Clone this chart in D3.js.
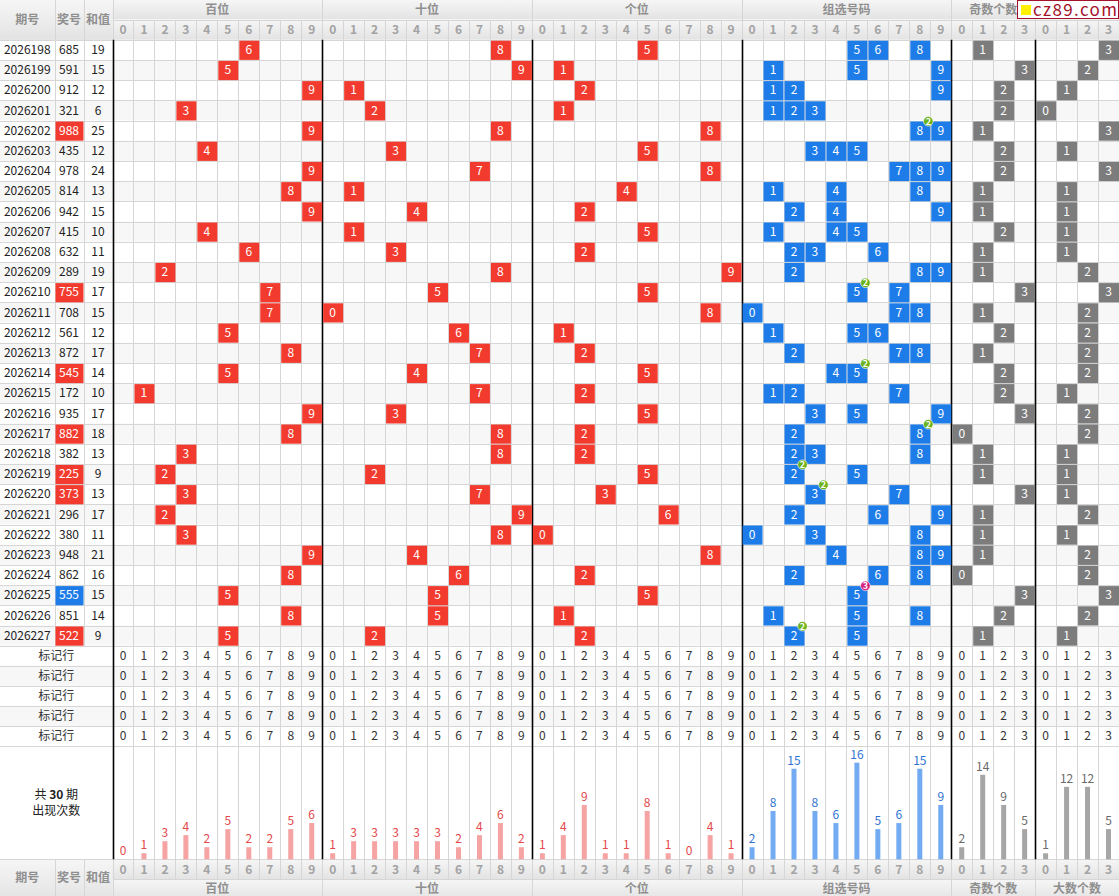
<!DOCTYPE html>
<html>
<head>
<meta charset="utf-8">
<script src="https://cdn.jsdelivr.net/npm/d3@7/dist/d3.min.js"></script>
<style>
body { margin: 0; background: #fff; }
svg text { font-family: "Noto Sans CJK SC", "Noto Sans", sans-serif; }
</style>
</head>
<body>
<svg id="chart" width="1119" height="896"></svg>
<script>
// ---- data ----
var issues = ["2026198","2026199","2026200","2026201","2026202","2026203","2026204","2026205","2026206","2026207",
              "2026208","2026209","2026210","2026211","2026212","2026213","2026214","2026215","2026216","2026217",
              "2026218","2026219","2026220","2026221","2026222","2026223","2026224","2026225","2026226","2026227"];
var draws = ["685","591","912","321","988","435","978","814","942","415",
             "632","289","755","708","561","872","545","172","935","882",
             "382","225","373","296","380","948","862","555","851","522"];
var sums = [19,15,12,6,25,12,24,13,15,10,11,19,17,15,12,17,14,10,17,18,13,9,13,17,11,21,16,15,14,9];
var oddCounts = [1,3,2,2,1,2,2,1,1,2,1,1,3,1,2,1,2,2,3,0,1,1,3,1,1,1,0,3,2,1];
var bigCounts = [3,2,1,0,3,1,3,1,1,1,1,2,3,2,2,2,2,1,2,2,1,1,1,2,1,2,2,3,2,1];

var groups = ["百位","十位","个位","组选号码","奇数个数","大数个数"];
var groupSizes = [10,10,10,10,4,4];
var digitLabels = ["0","1","2","3","4","5","6","7","8","9"];
var countLabels = ["0","1","2","3"];

// 出现次数 (30 periods)
var hundredsFreq = [0,1,3,4,2,5,2,2,5,6];
var tensFreq = [1,3,3,3,3,3,2,4,6,2];
var unitsFreq = [1,4,9,1,1,8,1,0,4,1];
var groupFreq = [2,8,15,8,6,16,5,6,15,9];
var oddFreq = [2,14,9,5];
var bigFreq = [1,12,12,5];

var markerRows = ["标记行","标记行","标记行","标记行","标记行"];

// ---- layout ----
var W = 1119, H = 896;
var leftEdges = [0, 54.5, 83.5, 112.5];
var headTop = 0, headMid = 19.5, headBot = 39.7;
var dataBot = 645.7, markBot = 746, statBot = 859.3, footMid = 879.3;

var colors = {
    red: "#f23b2e", blue: "#1d7ce8", gray: "#7c7c7c",
    grid: "#d6d6d6", alt: "#f7f7f7", head: "#999"
};

var svg = d3.select("#chart");

var grad = svg.append("defs").append("linearGradient")
    .attr("id", "hg").attr("x1", 0).attr("y1", 0).attr("x2", 0).attr("y2", 1);
grad.append("stop").attr("offset", "0%").attr("stop-color", "#f6f6f6");
grad.append("stop").attr("offset", "100%").attr("stop-color", "#e3e3e3");

// column list
var cols = [];
groups.forEach(function(g, gi) {
    var labels = groupSizes[gi] == 10 ? digitLabels : countLabels;
    labels.forEach(function(l, k) { cols.push({group: gi, label: l, k: k}); });
});
var groupStart = [];
var acc = 0;
groupSizes.forEach(function(n) { groupStart.push(acc); acc += n; });

var x = d3.scaleBand().domain(d3.range(cols.length)).range([leftEdges[3], W]);
var y = d3.scaleBand().domain(d3.range(issues.length)).range([headBot, dataBot]);
var ym = d3.scaleBand().domain(d3.range(markerRows.length)).range([dataBot, markBot]);
var yh = d3.scaleLinear().domain([0, 16]).range([statBot, statBot - 96.6]);
var cw = x.bandwidth();

function cx(i) { return x(i) + cw / 2; }
function groupX0(gi) { return x(groupStart[gi]); }
function groupX1(gi) { return x(groupStart[gi] + groupSizes[gi] - 1) + cw; }

// ---- backgrounds ----
svg.append("g").selectAll("rect")
    .data(d3.range(issues.length))
    .enter().append("rect")
    .attr("x", 0).attr("y", function(i) { return y(i); })
    .attr("width", W).attr("height", y.bandwidth())
    .attr("fill", function(i) { return i % 2 ? colors.alt : "#fff"; });

svg.append("g").selectAll("rect")
    .data(d3.range(markerRows.length))
    .enter().append("rect")
    .attr("x", 0).attr("y", function(i) { return ym(i); })
    .attr("width", W).attr("height", ym.bandwidth())
    .attr("fill", function(i) { return i % 2 ? colors.alt : "#fff"; });

// header + footer bands
svg.append("rect").attr("x", 0).attr("y", headTop).attr("width", W).attr("height", headMid - headTop).attr("fill", "url(#hg)");
svg.append("rect").attr("x", 0).attr("y", headMid).attr("width", W).attr("height", headBot - headMid).attr("fill", "url(#hg)");
svg.append("rect").attr("x", 0).attr("y", statBot).attr("width", W).attr("height", footMid - statBot).attr("fill", "url(#hg)");
svg.append("rect").attr("x", 0).attr("y", footMid).attr("width", W).attr("height", H - footMid + 4).attr("fill", "url(#hg)");
svg.append("rect").attr("x", 0).attr("y", headTop).attr("width", leftEdges[3]).attr("height", headBot).attr("fill", "url(#hg)");
svg.append("rect").attr("x", 0).attr("y", statBot).attr("width", leftEdges[3]).attr("height", H - statBot + 4).attr("fill", "url(#hg)");

// ---- grid lines ----
var grid = svg.append("g").attr("stroke", colors.grid).attr("stroke-width", 1).attr("shape-rendering", "crispEdges");

// horizontal lines for data rows
grid.selectAll(".hd")
    .data(d3.range(issues.length + 1))
    .enter().append("line")
    .attr("x1", 0).attr("x2", W)
    .attr("y1", function(i) { return Math.round(headBot + i * y.bandwidth()) + 0.5; })
    .attr("y2", function(i) { return Math.round(headBot + i * y.bandwidth()) + 0.5; });
grid.selectAll(".hm")
    .data(d3.range(1, markerRows.length + 1))
    .enter().append("line")
    .attr("x1", 0).attr("x2", W)
    .attr("y1", function(i) { return Math.round(dataBot + i * ym.bandwidth()) + 0.5; })
    .attr("y2", function(i) { return Math.round(dataBot + i * ym.bandwidth()) + 0.5; });
[headMid, statBot, footMid].forEach(function(v) {
    grid.append("line").attr("x1", leftEdges[3]).attr("x2", W)
        .attr("y1", Math.round(v) + 0.5).attr("y2", Math.round(v) + 0.5);
});
grid.append("line").attr("x1", 0).attr("x2", leftEdges[3])
    .attr("y1", Math.round(statBot) + 0.5).attr("y2", Math.round(statBot) + 0.5);

// vertical lines for digit columns
grid.selectAll(".vd")
    .data(d3.range(cols.length + 1))
    .enter().append("line")
    .attr("x1", function(i) { return Math.round(leftEdges[3] + i * cw) + 0.5; })
    .attr("x2", function(i) { return Math.round(leftEdges[3] + i * cw) + 0.5; })
    .attr("y1", function(i) {
        return groupStart.indexOf(i) >= 0 || i == cols.length ? headTop : headMid;
    })
    .attr("y2", function(i) {
        return groupStart.indexOf(i) >= 0 || i == cols.length ? H : footMid;
    });

// left label column dividers
[leftEdges[1], leftEdges[2]].forEach(function(v) {
    grid.append("line").attr("x1", Math.round(v) + 0.5).attr("x2", Math.round(v) + 0.5)
        .attr("y1", headTop).attr("y2", dataBot);
    grid.append("line").attr("x1", Math.round(v) + 0.5).attr("x2", Math.round(v) + 0.5)
        .attr("y1", statBot).attr("y2", H);
});

// thick black group separators
svg.append("g").selectAll("line")
    .data(groupStart)
    .enter().append("line")
    .attr("x1", function(i) { return Math.round(x(i)) + 0.5; })
    .attr("x2", function(i) { return Math.round(x(i)) + 0.5; })
    .attr("y1", headBot).attr("y2", statBot)
    .attr("stroke", "#000").attr("stroke-width", 1.6);

// ---- header & footer texts ----
function headerBlock(yGroup, yDigits, yLabel) {
    var g = svg.append("g").attr("fill", "#8f8f8f").attr("text-anchor", "middle");
    g.selectAll(".gt")
        .data(groups)
        .enter().append("text")
        .attr("x", function(d, gi) { return (groupX0(gi) + groupX1(gi)) / 2; })
        .attr("y", yGroup).attr("dy", "0.35em")
        .attr("font-size", 12).attr("font-weight", "bold")
        .text(function(d) { return d; });
    g.selectAll(".dt")
        .data(cols)
        .enter().append("text")
        .attr("x", function(d, i) { return cx(i); })
        .attr("y", yDigits).attr("dy", "0.35em")
        .attr("font-size", 12).attr("fill", "#a3a3a3").attr("font-weight", "bold")
        .text(function(d) { return d.label; });
    g.selectAll(".lt")
        .data(["期号","奖号","和值"])
        .enter().append("text")
        .attr("x", function(d, i) { return (leftEdges[i] + leftEdges[i + 1]) / 2; })
        .attr("y", yLabel).attr("dy", "0.35em")
        .attr("font-size", 12).attr("font-weight", "bold")
        .text(function(d) { return d; });
}
headerBlock((headTop + headMid) / 2, (headMid + headBot) / 2, headBot / 2);
headerBlock((footMid + 899) / 2, (statBot + footMid) / 2, (statBot + H) / 2);

// ---- data rows ----
var rows = svg.append("g").attr("font-size", 12).attr("text-anchor", "middle");

rows.selectAll(".iss")
    .data(issues)
    .enter().append("text")
    .attr("x", (leftEdges[0] + leftEdges[1]) / 2)
    .attr("y", function(d, i) { return y(i) + y.bandwidth() / 2; })
    .attr("dy", "0.35em").attr("fill", "#222")
    .text(function(d) { return d; });

function drawKind(d) {
    var s = new Set(d.split("")).size;
    return s == 1 ? "blue" : (s == 2 ? "red" : "");
}
rows.selectAll(".drb")
    .data(draws.filter(function(d) { return drawKind(d); }))
    .enter().append("rect")
    .attr("x", leftEdges[1] + 1).attr("width", leftEdges[2] - leftEdges[1] - 1)
    .attr("y", function(d) { return y(draws.indexOf(d)) + 1; })
    .attr("height", y.bandwidth() - 1)
    .attr("fill", function(d) { return colors[drawKind(d)]; });
rows.selectAll(".drt")
    .data(draws)
    .enter().append("text")
    .attr("x", (leftEdges[1] + leftEdges[2]) / 2)
    .attr("y", function(d, i) { return y(i) + y.bandwidth() / 2; })
    .attr("dy", "0.35em")
    .attr("fill", function(d) { return drawKind(d) ? "#fff" : "#222"; })
    .text(function(d) { return d; });
rows.selectAll(".sum")
    .data(sums)
    .enter().append("text")
    .attr("x", (leftEdges[2] + leftEdges[3]) / 2)
    .attr("y", function(d, i) { return y(i) + y.bandwidth() / 2; })
    .attr("dy", "0.35em").attr("fill", "#222")
    .text(function(d) { return d; });

// marks per row
var marks = [];
draws.forEach(function(d, i) {
    var digits = d.split("").map(Number);
    digits.forEach(function(v, p) {
        marks.push({row: i, col: groupStart[p] + v, text: v, color: colors.red});
    });
    d3.range(10).forEach(function(v) {
        var n = digits.filter(function(t) { return t == v; }).length;
        if (n) marks.push({row: i, col: groupStart[3] + v, text: v, color: colors.blue, times: n});
    });
    marks.push({row: i, col: groupStart[4] + oddCounts[i], text: oddCounts[i], color: colors.gray});
    marks.push({row: i, col: groupStart[5] + bigCounts[i], text: bigCounts[i], color: colors.gray});
});

var cell = rows.selectAll(".mk")
    .data(marks)
    .enter().append("g");
cell.append("rect")
    .attr("x", function(d) { return x(d.col) + 1; })
    .attr("y", function(d) { return y(d.row) + 1; })
    .attr("width", cw - 1).attr("height", y.bandwidth() - 1)
    .attr("fill", function(d) { return d.color; });
cell.append("text")
    .attr("x", function(d) { return cx(d.col); })
    .attr("y", function(d) { return y(d.row) + y.bandwidth() / 2; })
    .attr("dy", "0.35em").attr("fill", "#fff")
    .text(function(d) { return d.text; });

// repeat badges
var badge = rows.selectAll(".bd")
    .data(marks.filter(function(d) { return d.times > 1; }))
    .enter().append("g")
    .attr("transform", function(d) { return "translate(" + (x(d.col) + cw - 2) + "," + (y(d.row) + 0.8) + ")"; });
badge.append("circle")
    .attr("r", 4.8)
    .attr("fill", function(d) { return d.times == 3 ? "#d4237f" : "#6db31b"; })
    .attr("stroke", "#fff").attr("stroke-width", 0.6);
badge.append("text")
    .attr("dy", "0.36em").attr("font-size", 9).attr("font-weight", "bold")
    .attr("fill", "#fff")
    .text(function(d) { return d.times; });

// ---- marker rows ----
var mk = svg.append("g").attr("font-size", 12).attr("text-anchor", "middle").attr("fill", "#333");
mk.selectAll(".ml")
    .data(markerRows)
    .enter().append("text")
    .attr("x", leftEdges[3] / 2)
    .attr("y", function(d, i) { return ym(i) + ym.bandwidth() / 2; })
    .attr("dy", "0.35em")
    .text(function(d) { return d; });
markerRows.forEach(function(m, r) {
    mk.append("g").selectAll("text")
        .data(cols)
        .enter().append("text")
        .attr("x", function(d, i) { return cx(i); })
        .attr("y", ym(r) + ym.bandwidth() / 2)
        .attr("dy", "0.35em")
        .text(function(d) { return d.label; });
});

// ---- frequency bars ----
var freqSets = [
    {vals: hundredsFreq, bar: "#f5a3a3", txt: "#e5474a"},
    {vals: tensFreq, bar: "#f5a3a3", txt: "#e5474a"},
    {vals: unitsFreq, bar: "#f5a3a3", txt: "#e5474a"},
    {vals: groupFreq, bar: "#73abf2", txt: "#2f73d0"},
    {vals: oddFreq, bar: "#a6a6a6", txt: "#6a6a6a"},
    {vals: bigFreq, bar: "#a6a6a6", txt: "#6a6a6a"}
];
var freq = [];
freqSets.forEach(function(s, gi) {
    s.vals.forEach(function(v, k) { freq.push({col: groupStart[gi] + k, v: v, bar: s.bar, txt: s.txt}); });
});
var bars = svg.append("g");
bars.selectAll("rect")
    .data(freq)
    .enter().append("rect")
    .attr("x", function(d) { return cx(d.col) - 2.5; })
    .attr("width", 5)
    .attr("y", function(d) { return yh(d.v); })
    .attr("height", function(d) { return yh(0) - yh(d.v); })
    .attr("fill", function(d) { return d.bar; });
bars.selectAll("text")
    .data(freq)
    .enter().append("text")
    .attr("x", function(d) { return cx(d.col); })
    .attr("y", function(d) { return yh(d.v) - 4; })
    .attr("text-anchor", "middle").attr("font-size", 12)
    .attr("fill", function(d) { return d.txt; })
    .text(function(d) { return d.v; });

var note = svg.append("g").attr("text-anchor", "middle").attr("fill", "#222").attr("font-size", 12);
var t1 = note.append("text").attr("x", leftEdges[3] / 2).attr("y", 795).attr("dy", "0.35em");
t1.append("tspan").text("共 ");
t1.append("tspan").attr("font-weight", "bold").text(issues.length);
t1.append("tspan").text(" 期");
note.append("text").attr("x", leftEdges[3] / 2).attr("y", 811).attr("dy", "0.35em").text("出现次数");

// ---- watermark ----
var wm = svg.append("g");
wm.append("rect").attr("x", 1017.5).attr("y", 0.5).attr("width", 101).attr("height", 18)
    .attr("fill", "#fff").attr("stroke", "#a4122a").attr("stroke-width", 1);
wm.append("rect").attr("x", 1021).attr("y", 5).attr("width", 10).attr("height", 10).attr("fill", "#ffef00");
wm.append("text").attr("x", 1033).attr("y", 15.5)
    .attr("font-family", "'DejaVu Serif', 'Liberation Serif', serif").attr("font-size", 17)
    .attr("fill", "#a4122a").attr("textLength", 84)
    .text("cz89.com");
</script>
</body>
</html>
